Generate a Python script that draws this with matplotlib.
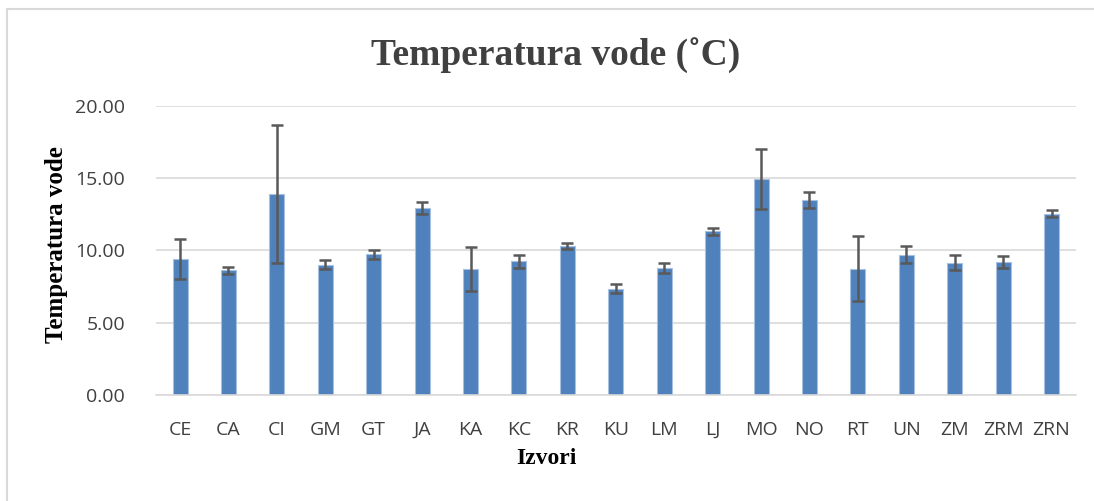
import numpy as np
import matplotlib.pyplot as plt
from matplotlib.patches import Rectangle

sites = ["CE", "CA", "CI", "GM", "GT", "JA", "KA", "KC", "KR", "KU",
         "LM", "LJ", "MO", "NO", "RT", "UN", "ZM", "ZRM", "ZRN"]
temp = [9.42, 8.61, 13.88, 9.01, 9.72, 12.93, 8.73, 9.24, 10.30, 7.34,
        8.78, 11.32, 14.92, 13.49, 8.73, 9.70, 9.15, 9.19, 12.54]
err = [1.40, 0.25, 4.77, 0.29, 0.30, 0.44, 1.52, 0.47, 0.20, 0.31,
       0.32, 0.23, 2.07, 0.53, 2.25, 0.61, 0.53, 0.40, 0.23]
yticks = [0, 5, 10, 15, 20]

fig = plt.figure(figsize=(10.94, 5.01), dpi=100)
fig.patches.append(Rectangle((7/1094, -0.1), 1.2, 1 - 9/501 + 0.1,
                             transform=fig.transFigure, fill=False,
                             edgecolor="#d9d9d9", linewidth=1.5))

ax = fig.add_axes([155.8/1094, 1 - 394.7/501, 920/1094, 288.7/501])
x = np.arange(len(sites))
ax.bar(x, temp, width=0.31, color="#4f81bd", edgecolor="#a9c1e0", linewidth=0.8,
       zorder=2)
ax.errorbar(x, temp, yerr=err, fmt="none", ecolor="#595959", elinewidth=1.8,
            capsize=4.5, capthick=1.8, zorder=3)

ax.set_xlim(-0.5, len(sites) - 0.5)
ax.set_ylim(0, 20)
ax.set_yticks(yticks)
ax.set_yticklabels([f"{v:.2f}" for v in yticks], family="Open Sans",
                   fontsize=14, color="#404040")
ax.set_xticks(x)
ax.set_xticklabels(sites, family="Open Sans", fontsize=14, color="#404040")
ax.tick_params(axis="x", length=0, pad=19)
ax.tick_params(axis="y", length=0, pad=22)
ax.grid(axis="y", color="#d9d9d9", linewidth=1.2, zorder=0)
for s in ["top", "right", "left"]:
    ax.spines[s].set_visible(False)
ax.spines["bottom"].set_color("#d9d9d9")
ax.spines["bottom"].set_linewidth(1.2)

fig.text(556/1094, 1 - 55/501, "Temperatura vode (˚C)", ha="center", va="center",
         family="Liberation Serif", fontweight="bold", fontsize=27,
         color="#404040")
fig.text(57/1094, 1 - 245/501, "Temperatura vode", ha="center", va="center",
         rotation=90, family="Liberation Serif", fontweight="bold",
         fontsize=18, color="black")
fig.text(546/1094, 1 - 458/501, "Izvori", ha="center", va="center",
         family="Liberation Serif", fontweight="bold", fontsize=17,
         color="black")

fig.savefig("out.png", dpi=100)
